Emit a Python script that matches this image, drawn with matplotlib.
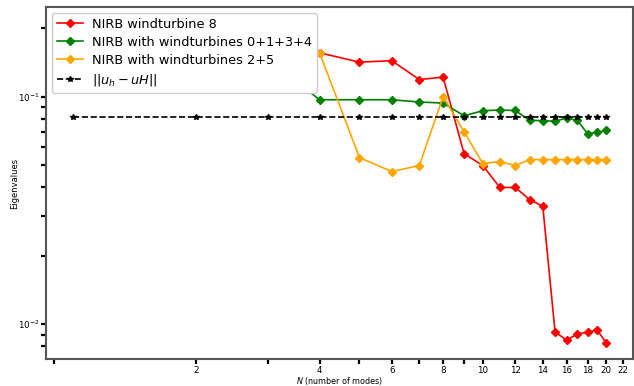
import numpy as np
import matplotlib
matplotlib.use("Agg")
import matplotlib.pyplot as plt
from matplotlib.ticker import NullFormatter

# number of modes
modes = np.arange(1, 21)

# first three points sit behind the legend in the original
err_wt8 = [0.195, 0.18, 0.165, 0.156, 0.142, 0.144, 0.119, 0.122, 0.0562, 0.0498,
           0.0399, 0.0399, 0.0353, 0.0330, 0.00923, 0.00851, 0.00904, 0.00923, 0.00942, 0.00826]
err_wt0134 = [0.19, 0.165, 0.145, 0.097, 0.097, 0.097, 0.0948, 0.0938, 0.0825, 0.0868,
              0.0874, 0.0870, 0.0787, 0.0785, 0.0780, 0.0806, 0.0787, 0.0688, 0.0697, 0.0711]
err_wt25 = [0.17, 0.19, 0.211, 0.156, 0.054, 0.0469, 0.0498, 0.100, 0.0702, 0.0508,
            0.0519, 0.0498, 0.0529, 0.0529, 0.0529, 0.0529, 0.0529, 0.0529, 0.0529, 0.0529]
err_coarse = [0.0814] * 20

xticks = list(range(2, 24, 2))

fig = plt.figure(figsize=(6.34, 3.86), dpi=100)
ax = fig.add_axes([46 / 634, 1 - 359 / 386, 587 / 634, 352 / 386])

ax.plot(modes, err_wt8, "-D", color="red", lw=1.2, ms=4, label="NIRB windturbine 8")
ax.plot(modes, err_wt0134, "-D", color="green", lw=1.2, ms=4, label="NIRB with windturbines 0+1+3+4")
ax.plot(modes, err_wt25, "-D", color="orange", lw=1.2, ms=4, label="NIRB with windturbines 2+5")
ax.plot(modes, err_coarse, "--*", color="black", lw=1.2, ms=4, label=r"$||u_h-uH||$")

ax.set_xscale("log")
ax.set_yscale("log")
ax.set_xticks(xticks, [str(t) for t in xticks])
ax.xaxis.set_minor_formatter(NullFormatter())
ax.yaxis.set_minor_formatter(NullFormatter())

ax.tick_params(which="both", length=3.8, width=1.6, labelsize=6.3, color="black", pad=1.0)
for s in ax.spines.values():
    s.set_color("#555555")
    s.set_linewidth(1.5)

ax.set_xlabel(r"$N$ (number of modes)", fontsize=5.8, labelpad=0)
ax.set_ylabel("Eigenvalues", fontsize=6, labelpad=-1)

ax.legend(loc="upper left", fontsize=9.3, framealpha=1, labelspacing=0.38,
          borderaxespad=0.45, handletextpad=0.7)

fig.savefig("out.png", dpi=100)
